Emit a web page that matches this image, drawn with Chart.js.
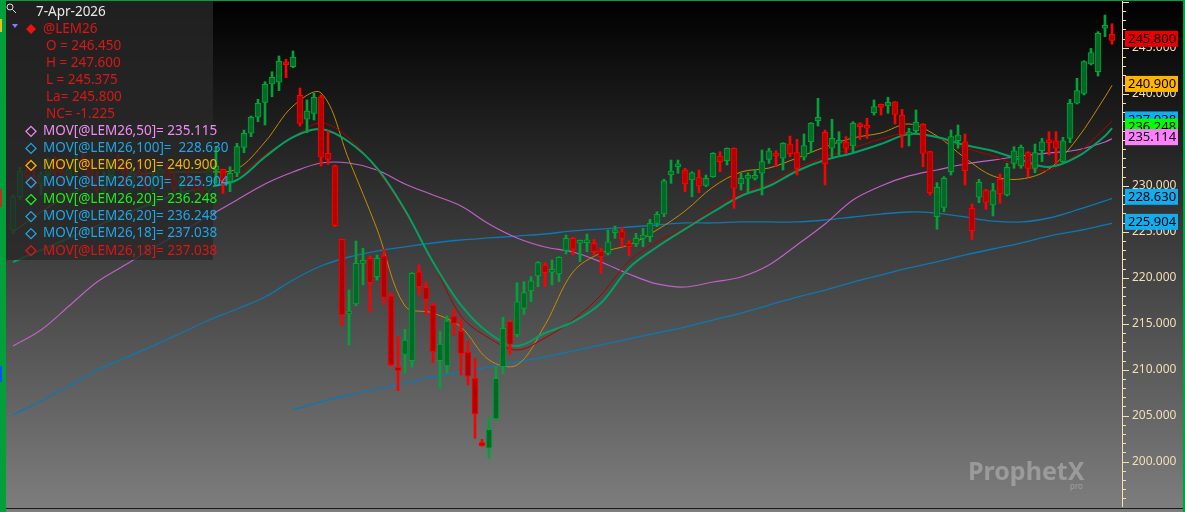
<!DOCTYPE html>
<html>
<head>
<meta charset="utf-8">
<script src="https://cdn.jsdelivr.net/npm/chart.js@4.4.1/dist/chart.umd.min.js"></script>
<style>
  html, body { margin: 0; padding: 0; background: #000; }
  canvas { display: block; }
</style>
</head>
<body>
<canvas id="chart" width="1185" height="512"></canvas>
<script>
// daily candles, oldest first (last one = 7-Apr-2026)
var opens = [
  225.2, 228.8, 231.6, 231.0, 230.2, 231.2, 232.5, 231.5, 230.6, 231.8,
  232.9, 232.2, 230.8, 229.6, 231.1, 232.4, 232.0, 230.4, 231.5, 231.0,
  229.9, 231.0, 231.8, 230.8, 229.8, 230.6, 230.2, 229.6, 229.53, 231.71,
  231.78, 230.43, 231.35, 234.17, 235.70, 237.44, 239.06, 241.05, 241.24, 243.37,
  242.93, 239.83, 237.22, 237.87, 239.67, 233.52, 232.17, 224.17, 216.05, 217.14,
  221.56, 222.11, 220.11, 222.39, 218.04, 210.26, 211.67, 210.98, 220.65, 218.96,
  217.03, 210.98, 210.40, 215.84, 214.21, 211.92, 209.07, 201.90, 201.46, 204.64,
  210.33, 215.22, 213.77, 216.67, 218.55, 220.19, 221.38, 220.59, 220.40, 222.93,
  224.28, 223.74, 223.80, 223.74, 222.90, 222.65, 224.89, 225.00, 223.74, 223.66,
  224.28, 224.46, 225.91, 226.92, 231.16, 232.06, 231.71, 230.62, 230.87, 230.04,
  230.98, 233.23, 232.72, 234.07, 230.18, 230.80, 230.80, 231.35, 232.87, 233.45,
  232.98, 234.53, 233.59, 233.09, 234.78, 237.07, 235.80, 234.07, 234.61, 234.78,
  234.32, 236.60, 236.35, 237.93, 238.66, 238.66, 239.13, 237.68, 235.51, 235.98,
  236.71, 233.70, 226.63, 227.65, 231.52, 234.89, 234.78, 227.54, 228.74, 229.46,
  227.90, 230.70, 228.99, 232.43, 232.14, 233.59, 231.89, 233.80, 234.78, 234.89,
  232.61, 235.15, 238.96, 240.04, 243.23, 242.39, 247.11, 246.45
];
var highs = [
  229.0, 232.0, 232.8, 232.2, 231.5, 233.0, 233.2, 232.6, 232.0, 233.3,
  233.6, 232.9, 231.6, 231.5, 232.8, 233.4, 232.5, 231.8, 232.6, 231.8,
  231.4, 232.3, 232.5, 231.5, 231.0, 231.6, 231.0, 230.8, 232.25, 234.24,
  231.80, 232.06, 234.61, 236.05, 237.58, 239.39, 241.30, 242.39, 244.10, 243.74,
  244.64, 240.62, 239.32, 240.04, 239.86, 235.98, 232.25, 224.20, 218.66, 223.99,
  223.20, 222.36, 222.47, 223.09, 218.41, 213.59, 214.39, 220.54, 221.38, 219.57,
  217.22, 214.13, 215.84, 216.57, 215.48, 213.12, 211.24, 202.43, 204.83, 210.33,
  215.70, 215.25, 219.46, 219.57, 220.11, 221.74, 221.63, 221.92, 222.28, 224.64,
  224.39, 224.10, 224.75, 224.17, 223.20, 225.18, 225.62, 225.48, 224.02, 224.83,
  225.37, 226.35, 227.17, 230.70, 232.79, 232.79, 231.89, 231.52, 231.71, 231.16,
  233.59, 233.70, 234.10, 234.10, 231.35, 231.41, 231.78, 233.88, 234.07, 233.80,
  234.67, 235.40, 235.04, 235.62, 236.85, 239.50, 236.05, 237.22, 235.87, 235.33,
  236.96, 236.85, 237.33, 239.32, 238.88, 239.61, 239.15, 238.30, 236.24, 238.23,
  236.75, 233.75, 230.33, 230.98, 236.05, 236.60, 235.62, 228.01, 230.70, 229.61,
  230.26, 231.27, 232.43, 234.24, 234.42, 233.70, 234.53, 235.15, 235.87, 235.87,
  235.26, 239.39, 241.67, 243.59, 244.93, 246.74, 248.55, 247.60
];
var lows = [
  224.8, 228.5, 230.5, 229.8, 229.0, 230.8, 231.0, 230.2, 230.0, 231.2,
  231.8, 230.4, 229.2, 229.2, 230.6, 231.7, 230.0, 229.8, 230.8, 229.5,
  229.4, 230.4, 230.5, 229.4, 229.0, 229.8, 229.2, 229.0, 228.99, 230.26,
  229.17, 229.35, 230.98, 233.59, 235.33, 236.96, 236.60, 239.67, 240.33, 241.74,
  242.83, 236.49, 235.76, 237.14, 232.14, 232.33, 225.54, 214.78, 212.68, 216.96,
  219.21, 216.30, 219.75, 217.03, 210.40, 207.72, 209.61, 210.26, 218.12, 215.95,
  210.76, 207.98, 209.61, 213.77, 209.42, 208.34, 202.54, 201.65, 200.37, 204.53,
  209.53, 211.67, 213.59, 216.02, 217.39, 219.02, 219.02, 219.21, 219.57, 222.58,
  222.47, 221.74, 222.83, 222.47, 220.48, 222.47, 224.28, 223.37, 222.39, 223.37,
  223.37, 223.91, 225.54, 226.63, 230.26, 231.35, 229.35, 228.80, 229.24, 229.89,
  230.91, 231.52, 232.25, 227.54, 229.53, 229.17, 230.62, 228.99, 232.43, 232.06,
  231.71, 233.15, 231.16, 232.79, 233.59, 236.49, 230.08, 233.15, 233.34, 233.52,
  233.70, 235.04, 235.15, 237.68, 237.68, 237.87, 236.71, 234.17, 234.32, 235.70,
  232.06, 228.99, 225.26, 227.17, 231.16, 234.07, 230.08, 224.17, 228.15, 227.43,
  226.71, 228.09, 228.88, 231.89, 231.89, 230.98, 231.41, 232.61, 233.34, 232.43,
  232.43, 234.67, 238.88, 239.86, 243.12, 241.92, 246.20, 245.375
];
var closes = [
  228.8, 231.6, 231.0, 230.2, 231.2, 232.5, 231.5, 230.6, 231.8, 232.9,
  232.2, 230.8, 229.6, 231.1, 232.4, 232.0, 230.4, 231.5, 231.0, 229.9,
  231.0, 231.8, 230.8, 229.8, 230.6, 230.2, 229.6, 229.5, 231.71, 232.14,
  230.54, 231.35, 234.24, 235.70, 237.44, 238.96, 241.02, 241.78, 243.52, 243.15,
  243.96, 236.78, 238.12, 239.61, 233.09, 232.87, 225.65, 215.95, 216.27, 221.56,
  221.74, 219.46, 222.11, 217.87, 210.51, 209.89, 213.23, 220.48, 219.02, 217.65,
  211.96, 212.79, 215.29, 215.04, 211.78, 209.31, 205.18, 201.75, 203.52, 209.07,
  214.50, 212.76, 217.39, 218.37, 219.67, 221.63, 220.54, 220.76, 222.22, 224.28,
  223.09, 224.02, 223.91, 222.83, 222.28, 223.91, 225.18, 224.28, 223.37, 224.28,
  224.64, 225.91, 226.89, 230.54, 231.60, 232.22, 230.18, 231.41, 229.97, 230.80,
  233.52, 232.61, 234.07, 229.72, 230.80, 230.98, 231.05, 232.61, 233.80, 233.23,
  234.61, 233.45, 231.89, 234.35, 236.78, 237.44, 232.36, 235.15, 234.86, 234.07,
  236.78, 236.41, 236.24, 238.59, 238.52, 239.06, 237.76, 235.51, 235.70, 236.92,
  233.52, 229.24, 229.83, 230.80, 235.33, 235.51, 231.63, 225.11, 230.37, 228.20,
  229.46, 229.10, 232.00, 233.80, 234.17, 231.89, 233.59, 234.78, 234.67, 234.07,
  234.89, 238.96, 240.33, 243.48, 244.46, 246.56, 247.22, 245.80
];

// moving averages at these candle positions
var maIdx = [0, 4, 8, 12, 16, 20, 24, 28, 32, 36, 40, 44, 48, 52, 56, 60, 64, 68, 72, 76,
  80, 84, 88, 92, 96, 100, 104, 108, 112, 116, 120, 124, 128, 132, 136, 140, 144, 148, 152, 156, 157];
var ma50 = [212.58, 214.32, 216.92, 219.53, 221.38, 223.23, 224.97, 226.71, 228.45, 230.19,
  231.49, 232.47, 232.47, 231.71, 230.19, 228.99, 227.79, 225.84, 224.32, 223.34,
  222.79, 221.71, 220.40, 219.32, 218.99, 219.53, 220.08, 221.38, 223.56, 225.84,
  228.45, 229.97, 231.06, 231.71, 232.36, 232.79, 233.23, 233.56, 233.88, 234.75, 235.11];
var ma100 = [205.08, 206.60, 208.23, 209.97, 211.27, 212.58, 213.99, 215.40, 216.60, 217.90,
  219.75, 221.27, 222.25, 222.90, 223.34, 223.77, 224.10, 224.32, 224.53, 224.75,
  225.08, 225.29, 225.51, 225.73, 225.95, 225.95, 226.06, 226.06, 226.06, 226.27,
  226.60, 226.92, 227.14, 227.03, 226.60, 226.16, 226.06, 226.49, 227.36, 228.34, 228.63];
var ma200 = [null, null, null, null, null, null, null, null, null, null,
  205.62, 206.49, 207.25, 207.90, 208.55, 209.21, 209.75, 210.29, 210.84, 211.38,
  212.03, 212.69, 213.34, 213.99, 214.64, 215.40, 216.16, 217.03, 217.90, 218.66,
  219.53, 220.29, 221.06, 221.71, 222.47, 223.12, 223.77, 224.53, 225.08, 225.73, 225.90];
var ma10 = [224.97, 227.14, 228.99, 230.40, 231.06, 231.38, 231.49, 231.49, 231.82, 234.75,
  238.66, 240.08, 232.79, 225.29, 216.92, 216.16, 214.64, 211.06, 210.51, 214.86,
  220.62, 222.69, 223.56, 225.19, 227.25, 229.86, 231.49, 231.92, 233.01, 234.21,
  235.19, 235.73, 236.71, 235.40, 233.01, 231.06, 230.73, 231.82, 235.08, 239.64, 240.90];
var ma18 = [221.92, 223.23, 224.53, 225.84, 227.14, 228.45, 229.53, 230.29, 231.06, 233.34,
  235.29, 236.82, 235.19, 231.71, 227.14, 221.71, 215.84, 213.45, 212.14, 213.45,
  215.40, 218.12, 221.82, 223.88, 225.40, 227.58, 229.21, 230.29, 231.92, 233.12,
  234.10, 235.08, 235.73, 235.19, 234.10, 233.23, 232.14, 231.71, 233.45, 236.27, 237.04];
var ma20 = [221.71, 223.01, 224.32, 225.62, 226.92, 228.12, 229.21, 229.86, 230.62, 233.12,
  235.29, 236.16, 234.75, 231.92, 227.36, 221.71, 217.03, 213.99, 212.58, 213.99,
  215.19, 217.25, 221.06, 223.34, 225.29, 227.14, 228.88, 229.97, 231.60, 232.79,
  233.56, 234.53, 235.62, 235.29, 234.42, 233.77, 232.79, 232.03, 233.12, 235.40, 236.25];

var yLabels = [200, 205, 210, 215, 220, 225, 230, 235, 240, 245];

// legend text and last-value boxes on the axis
var legendRows = [
  ['7-Apr-2026', '#e8e8e8', 'none'],
  ['@LEM26', '#e01414', 'fill'],
  ['O = 246.450', '#d81818', 'sub'],
  ['H = 247.600', '#d81818', 'sub'],
  ['L = 245.375', '#d81818', 'sub'],
  ['La= 245.800', '#d81818', 'sub'],
  ['NC= -1.225', '#d81818', 'sub'],
  ['MOV[@LEM26,50]= 235.115', '#f08cf0', 'open'],
  ['MOV[@LEM26,100]=  228.630', '#1ea6e8', 'open'],
  ['MOV[@LEM26,10]= 240.900', '#f6b400', 'open'],
  ['MOV[@LEM26,200]=  225.904', '#1ea6e8', 'open'],
  ['MOV[@LEM26,20]= 236.248', '#18f018', 'open'],
  ['MOV[@LEM26,20]= 236.248', '#1ea6e8', 'open'],
  ['MOV[@LEM26,18]= 237.038', '#1ea6e8', 'open'],
  ['MOV[@LEM26,18]= 237.038', '#e01414', 'open']
];
var lastValues = [225.904, 228.630, 237.038, 236.248, 235.114, 240.900, 245.800];
var lastColors = ['#10aef0', '#10aef0', '#10aef0', '#00ff00', '#ff80ff', '#ffb400', '#e80000'];

var idx = opens.map(function (o, i) { return i; });
var isUp = idx.map(function (i) { return closes[i] >= opens[i]; });

function maLine(vals) {
  return maIdx.map(function (x, j) { return { x: x, y: vals[j] }; });
}

var overlay = {
  id: 'overlay',
  beforeDraw: function (chart) {
    var ctx = chart.ctx;
    var g = ctx.createLinearGradient(0, 0, 0, 512);
    g.addColorStop(0, '#000000');
    g.addColorStop(1, '#7e7e7e');
    ctx.fillStyle = g;
    ctx.fillRect(0, 0, chart.width, chart.height);
  },
  afterDatasetsDraw: function (chart) {
    var ctx = chart.ctx;
    ctx.save();
    ctx.fillStyle = 'rgba(40,40,40,0.8)';
    ctx.fillRect(6, 1, 207, 259);
    ctx.font = '13.5px "Noto Sans", "Open Sans", sans-serif';
    ctx.textBaseline = 'middle';
    legendRows.forEach(function (r, n) {
      var y = 12 + n * 17.05;
      var x = r[2] === 'none' ? 36 : (r[2] === 'sub' ? 46 : 43);
      ctx.fillStyle = r[1];
      ctx.fillText(r[0], x, y);
      if (r[2] === 'fill' || r[2] === 'open') {
        ctx.beginPath();
        ctx.moveTo(31, y - 5); ctx.lineTo(36, y); ctx.lineTo(31, y + 5); ctx.lineTo(26, y);
        ctx.closePath();
        if (r[2] === 'fill') { ctx.fillStyle = '#f01010'; ctx.fill(); }
        else { ctx.strokeStyle = r[1]; ctx.lineWidth = 1.3; ctx.stroke(); }
      }
    });
    // little triangle and magnifier
    ctx.fillStyle = '#7f7fff';
    ctx.beginPath(); ctx.moveTo(12, 24); ctx.lineTo(18, 24); ctx.lineTo(15, 28); ctx.closePath(); ctx.fill();
    ctx.strokeStyle = '#e0e0e0'; ctx.lineWidth = 1;
    ctx.beginPath(); ctx.arc(10, 7, 3, 0, Math.PI * 2); ctx.stroke();
    ctx.beginPath(); ctx.moveTo(12.5, 9.5); ctx.lineTo(16, 13); ctx.stroke();
    ctx.restore();
  },
  afterDraw: function (chart) {
    var ctx = chart.ctx;
    var ys = chart.scales.y;
    var area = chart.chartArea;
    ctx.save();
    // axis line and ticks
    ctx.fillStyle = '#f2dfb2';
    ctx.fillRect(area.right, 0, 1, area.bottom);
    for (var v = 196; v <= 250; v++) {
      var py = Math.round(ys.getPixelForValue(v));
      ctx.fillRect(area.right, py, v % 5 === 0 ? 7 : 4, 1);
    }
    // last value boxes
    ctx.font = '13px "Noto Sans", "Open Sans", sans-serif';
    ctx.textBaseline = 'middle';
    lastValues.forEach(function (val, n) {
      var cy = ys.getPixelForValue(val) - 1.5;
      ctx.fillStyle = lastColors[n];
      ctx.fillRect(1125, cy - 8, 53, 16);
      ctx.fillStyle = '#000';
      ctx.fillText(val.toFixed(3), 1128, cy + 0.5);
    });
    // watermark
    ctx.fillStyle = 'rgba(255,255,255,0.28)';
    ctx.font = 'bold 25px "Noto Sans", sans-serif';
    ctx.textBaseline = 'alphabetic';
    ctx.fillText('ProphetX', 968, 480);
    ctx.font = '8px "Noto Sans", sans-serif';
    ctx.fillText('pro', 1070, 489);
    // frame
    ctx.fillStyle = '#00a03c';
    ctx.fillRect(0, 0, 6, chart.height);
    ctx.fillRect(0, 0, chart.width, 1);
    ctx.fillRect(chart.width - 2, 0, 2, chart.height);
    ctx.fillStyle = '#e8c020'; ctx.fillRect(0, 19, 2, 13);
    ctx.fillStyle = '#c03020'; ctx.fillRect(0, 189, 2, 18);
    ctx.fillStyle = '#1050ff'; ctx.fillRect(0, 366, 2, 16);
    ctx.fillStyle = '#1a1a1a';
    ctx.fillRect(6, 508, chart.width - 8, 1);
    ctx.restore();
  }
};

new Chart(document.getElementById('chart'), {
  type: 'bar',
  data: {
    datasets: [
      {
        type: 'bar', label: 'bodies', order: 0, grouped: false,
        data: idx.map(function (i) { return { x: i, y: [opens[i], closes[i]] }; }),
        backgroundColor: isUp.map(function (u) { return u ? '#006b26' : '#b40000'; }),
        borderColor: isUp.map(function (u) { return u ? '#00a33a' : '#ff0000'; }),
        borderWidth: 1, borderSkipped: false, barThickness: 6, minBarLength: 3
      },
      {
        type: 'bar', label: 'wicks', order: 1, grouped: false,
        data: idx.map(function (i) { return { x: i, y: [lows[i], highs[i]] }; }),
        backgroundColor: isUp.map(function (u) { return u ? '#00a33a' : '#ff0000'; }),
        borderWidth: 0, barThickness: 2
      },
      { type: 'line', label: 'MA20b', order: 2, data: maLine(ma20), borderColor: '#0a86c8', borderWidth: 1, borderDash: [2, 2], pointRadius: 0, tension: 0.35 },
      { type: 'line', label: 'MA20', order: 3, data: maLine(ma20), borderColor: '#00a848', borderWidth: 2, pointRadius: 0, tension: 0.35 },
      { type: 'line', label: 'MA18', order: 4, data: maLine(ma18), borderColor: '#b00000', borderWidth: 1, pointRadius: 0, tension: 0.35 },
      { type: 'line', label: 'MA10', order: 5, data: maLine(ma10), borderColor: '#c68a00', borderWidth: 1, pointRadius: 0, tension: 0.35 },
      { type: 'line', label: 'MA50', order: 6, data: maLine(ma50), borderColor: '#c060c8', borderWidth: 1.2, pointRadius: 0, tension: 0.35 },
      { type: 'line', label: 'MA100', order: 7, data: maLine(ma100), borderColor: '#0c78b4', borderWidth: 1.3, pointRadius: 0, tension: 0.35 },
      { type: 'line', label: 'MA200', order: 8, data: maLine(ma200), borderColor: '#0c78b4', borderWidth: 1.3, pointRadius: 0, tension: 0.35 }
    ]
  },
  options: {
    responsive: false,
    animation: false,
    devicePixelRatio: 1,
    events: [],
    layout: { padding: { left: 6, top: 0, right: 0, bottom: 5 } },
    plugins: { legend: { display: false }, tooltip: { enabled: false } },
    scales: {
      x: { type: 'linear', min: -1, max: 158.4286, display: false, offset: false },
      y: {
        type: 'linear', position: 'right', min: 195.076, max: 250.185,
        afterBuildTicks: function (s) { s.ticks = yLabels.map(function (v) { return { value: v }; }); },
        afterFit: function (s) { s.width = 63; s.paddingTop = 0; s.paddingBottom = 0; },
        grid: { display: false, drawTicks: false },
        border: { display: false },
        ticks: {
          padding: 10, color: '#f2dfb8', autoSkip: false,
          font: { family: '"Noto Sans", "Open Sans", sans-serif', size: 12 },
          callback: function (v) { return Number(v).toFixed(3); }
        }
      }
    }
  },
  plugins: [overlay]
});
</script>
</body>
</html>
